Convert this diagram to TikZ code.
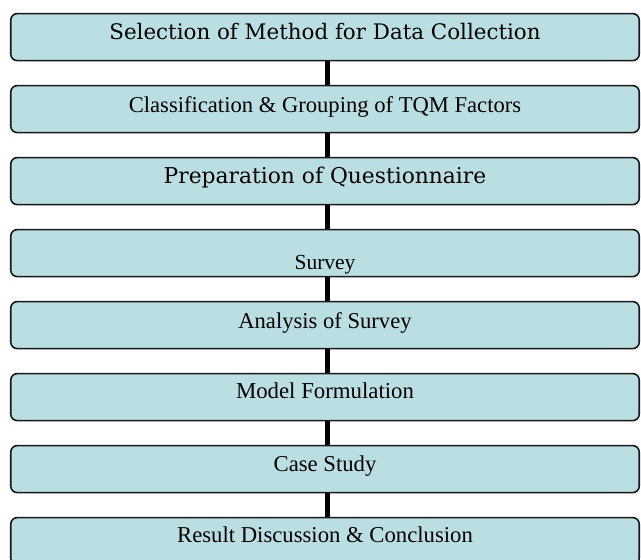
\documentclass[tikz,border=0pt]{standalone}
\usepackage{fontspec}
\setmainfont{Liberation Serif}
\newfontfamily\widefont{DejaVu Serif}
\definecolor{boxfill}{RGB}{185,223,227}
\definecolor{boxline}{RGB}{25,25,25}
\tikzset{
  stepbox/.style={draw=boxline, line width=1.6pt, fill=boxfill,
    rounded corners=6.5pt, minimum width=628.5pt, inner sep=0pt,
    text height=#1, text depth=47pt-#1, anchor=north},
  stepbox/.default=25.5pt,
  link/.style={draw=black, line width=5pt}
}
\begin{document}
\begin{tikzpicture}[x=1pt,y=1pt]
\useasboundingbox (0,0) rectangle (641,-560);
\clip (0,0) rectangle (641,-560);
% the eight stages, 72pt apart
\node[stepbox] (b1) at (325,-12.8) {\widefont\fontsize{21.4}{24}\selectfont Selection of Method for Data Collection};
\node[stepbox=26.5pt] (b2) at (325,-84.8) {\fontsize{22.6}{26}\selectfont Classification \& Grouping of TQM Factors};
\node[stepbox] (b3) at (325,-156.8) {\widefont\fontsize{21.8}{25}\selectfont Preparation of Questionnaire};
\node[stepbox=40pt] (b4) at (325,-228.8) {\fontsize{21.5}{25}\selectfont Survey};
\node[stepbox=26.5pt] (b5) at (325,-300.8) {\fontsize{22.6}{26}\selectfont Analysis of Survey};
\node[stepbox=24.5pt] (b6) at (325,-372.8) {\fontsize{22.8}{26}\selectfont Model Formulation};
\node[stepbox=26pt] (b7) at (325,-444.8) {\fontsize{22.7}{26}\selectfont Case Study};
\node[stepbox=25pt] (b8) at (325,-516.8) {\fontsize{22.7}{26}\selectfont Result Discussion \& Conclusion};
% vertical links between consecutive stages
\foreach \a/\b in {b1/b2,b2/b3,b3/b4,b4/b5,b5/b6,b6/b7,b7/b8}
  \draw[link] ([xshift=2.5pt]\a.south) -- ([xshift=2.5pt]\b.north);
\end{tikzpicture}
\end{document}
